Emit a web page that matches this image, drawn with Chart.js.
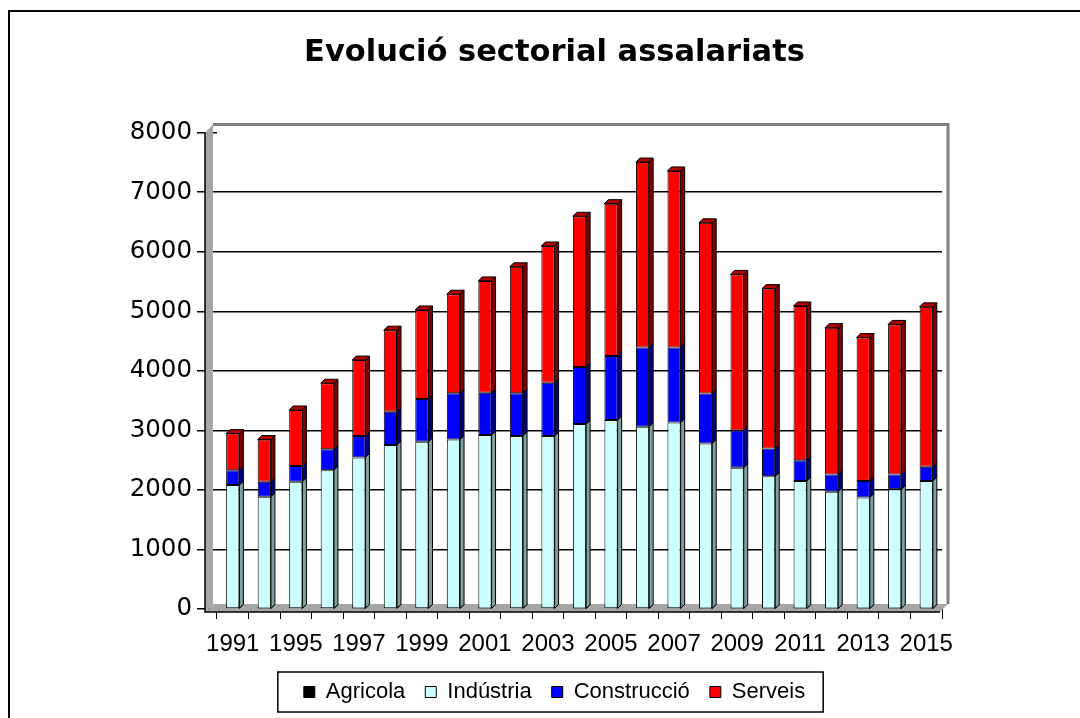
<!DOCTYPE html>
<html>
<head>
<meta charset="utf-8">
<script src="https://cdn.jsdelivr.net/npm/chart.js@4.4.0/dist/chart.umd.min.js"></script>
<style>
html,body{margin:0;padding:0;background:#fff;overflow:hidden;}
#wrap{position:relative;width:1080px;height:718px;overflow:hidden;}
#frame{position:absolute;left:8px;top:10px;width:1100px;height:740px;border-left:2px solid #000;border-top:2px solid #000;pointer-events:none;}
canvas{position:absolute;left:0;top:0;}
</style>
</head>
<body>
<div id="wrap"><canvas id="c" width="1080" height="718"></canvas><div id="frame"></div></div>
<script>
// ---- data ----
const years = ['1991','1993','1995','1996','1997','1998','1999','2000','2001','2002','2003','2004',
               '2005','2006','2007','2008','2009','2010','2011','2012','2013','2014','2015'];
const agricola    = [12, 10, 12, 11, 10, 12, 12, 11, 10, 12, 11, 10, 12, 11, 11, 10, 9, 10, 9, 9, 8, 9, 9];
const industria   = [2070, 1875, 2125, 2320, 2535, 2740, 2795, 2835, 2910, 2895, 2895, 3095,
                     3160, 3050, 3120, 2770, 2365, 2220, 2140, 1960, 1865, 2000, 2140];
const construccio = [250, 250, 265, 350, 360, 560, 720, 775, 710, 715, 895, 960,
                     1075, 1330, 1260, 840, 625, 465, 350, 290, 275, 250, 240];
const serveis     = [615, 710, 940, 1110, 1275, 1370, 1495, 1665, 1880, 2125, 2295, 2530,
                     2560, 3115, 2965, 2865, 2620, 2685, 2590, 2465, 2410, 2520, 2685];
const yTicks = [0, 1000, 2000, 3000, 4000, 5000, 6000, 7000, 8000];

const sideColors = ['#000000', '#7FA0A0', '#000080', '#800000'];

const wallPlugin = {
  id: 'wall3d',
  beforeDatasetsDraw(chart) {
    const {ctx, chartArea: a} = chart;
    ctx.save();
    ctx.fillStyle = '#A6A6A6';
    ctx.beginPath();
    ctx.moveTo(a.left - 12, a.top);
    ctx.lineTo(a.left - 4, a.top - 8);
    ctx.lineTo(a.left - 4, a.bottom - 5);
    ctx.lineTo(a.left - 12, a.bottom + 3);
    ctx.closePath();
    ctx.fill();
    ctx.beginPath();
    ctx.moveTo(a.left - 12, a.bottom + 3);
    ctx.lineTo(a.left - 4, a.bottom - 5);
    ctx.lineTo(a.right + 6, a.bottom - 5);
    ctx.lineTo(a.right - 2, a.bottom + 3);
    ctx.closePath();
    ctx.fill();
    ctx.strokeStyle = '#808080';
    ctx.lineWidth = 3;
    ctx.beginPath();
    ctx.moveTo(a.left - 4, a.top - 8);
    ctx.lineTo(a.right + 6, a.top - 8);
    ctx.lineTo(a.right + 6, a.bottom - 5);
    ctx.stroke();
    ctx.strokeStyle = '#000';
    ctx.lineWidth = 1.5;
    ctx.beginPath();
    ctx.moveTo(a.left - 12, a.top);
    ctx.lineTo(a.left - 12, a.bottom + 3);
    ctx.lineTo(a.right - 2, a.bottom + 3);
    ctx.stroke();
    ctx.restore();
  },
  afterDatasetsDraw(chart) {
    const ctx = chart.ctx;
    const d = 4;
    const n = chart.data.datasets.length;
    ctx.save();
    ctx.lineWidth = 1;
    ctx.strokeStyle = '#000';
    chart.data.datasets.forEach((ds, di) => {
      const meta = chart.getDatasetMeta(di);
      meta.data.forEach((bar) => {
        const p = bar.getProps(['x', 'y', 'base', 'width'], true);
        const l = p.x - p.width / 2, r = p.x + p.width / 2;
        const top = Math.min(p.y, p.base), bot = Math.max(p.y, p.base);
        ctx.fillStyle = sideColors[di];
        ctx.beginPath();
        ctx.moveTo(r, top);
        ctx.lineTo(r + d, top - d);
        ctx.lineTo(r + d, bot - d);
        ctx.lineTo(r, bot);
        ctx.closePath();
        ctx.fill();
        ctx.stroke();
        if (di === n - 1) {
          ctx.fillStyle = '#B00000';
          ctx.beginPath();
          ctx.moveTo(l, top);
          ctx.lineTo(l + d, top - d);
          ctx.lineTo(r + d, top - d);
          ctx.lineTo(r, top);
          ctx.closePath();
          ctx.fill();
          ctx.stroke();
        }
      });
    });
    ctx.restore();
  }
};

const legendBoxPlugin = {
  id: 'legendBox',
  afterDraw(chart) {
    const lg = chart.legend;
    if (!lg || !lg.legendHitBoxes || !lg.legendHitBoxes.length) return;
    const hb = lg.legendHitBoxes;
    const minX = Math.min(...hb.map(h => h.left));
    const maxX = Math.max(...hb.map(h => h.left + h.width));
    const topY = Math.min(...hb.map(h => h.top));
    const ctx = chart.ctx;
    ctx.save();
    ctx.strokeStyle = '#000';
    ctx.lineWidth = 1.5;
    ctx.strokeRect(minX - 26, topY - 9, (maxX - minX) + 44, 40);
    ctx.restore();
  }
};

const mk = (label, data, color) => ({
  label, data,
  backgroundColor: color,
  borderColor: '#000',
  borderWidth: 1,
  borderSkipped: false,
  categoryPercentage: 1,
  barPercentage: 0.42,
  yAxisID: 'y'
});

new Chart(document.getElementById('c'), {
  type: 'bar',
  data: {
    labels: years,
    datasets: [
      mk('Agricola', agricola, '#000000'),
      mk('Indústria', industria, '#CCFFFF'),
      mk('Construcció', construccio, '#0000FF'),
      mk('Serveis', serveis, '#FF0000')
    ]
  },
  options: {
    responsive: false,
    animation: false,
    devicePixelRatio: 1,
    layout: { padding: { top: 0, left: 124, right: 95, bottom: 5 } },
    plugins: {
      title: {
        display: true,
        text: 'Evolució sectorial assalariats',
        color: '#000',
        font: { family: "'DejaVu Sans', sans-serif", size: 30.5, weight: 'bold' },
        padding: { top: 35, bottom: 61 }
      },
      legend: {
        display: true,
        position: 'bottom',
        labels: {
          color: '#000',
          font: { family: "'Liberation Sans', Arial, sans-serif", size: 22 },
          boxWidth: 11,
          boxHeight: 11,
          padding: 20
        }
      },
      tooltip: { enabled: false }
    },
    scales: {
      x: {
        stacked: true,
        afterFit(s) { s.height = 52; },
        grid: { display: true, drawOnChartArea: false, offset: true, color: '#000', tickLength: 10, lineWidth: 1 },
        border: { display: false },
        ticks: {
          autoSkip: false,
          maxRotation: 0,
          minRotation: 0,
          padding: 11,
          color: '#000',
          font: { family: "'Liberation Sans Narrow', 'Arial Narrow', 'Liberation Sans', sans-serif", size: 24 },
          callback(v, i) { return i % 2 === 0 ? years[i] : ''; }
        }
      },
      y: {
        stacked: true,
        position: 'left',
        min: 0,
        max: 8000,
        afterFit(s) { s.width = 93; },
        afterBuildTicks(s) { s.ticks = yTicks.map(v => ({ value: v })); },
        grid: {
          color: (c) => (c.tick && c.tick.value === 8000) ? 'rgba(0,0,0,0)' : '#000',
          tickColor: '#000',
          tickLength: 20,
          lineWidth: 1.5
        },
        border: { display: false },
        ticks: {
          padding: 5,
          color: '#000',
          font: { family: "'DejaVu Sans', sans-serif", size: 24.5 },
          callback(v) { return String(v); }
        }
      },
      yRight: {
        position: 'right',
        min: 0,
        max: 8000,
        afterFit(s) { s.width = 43; },
        grid: { display: false },
        border: { display: false },
        ticks: { display: false }
      }
    }
  },
  plugins: [wallPlugin, legendBoxPlugin]
});
</script>
</body>
</html>
